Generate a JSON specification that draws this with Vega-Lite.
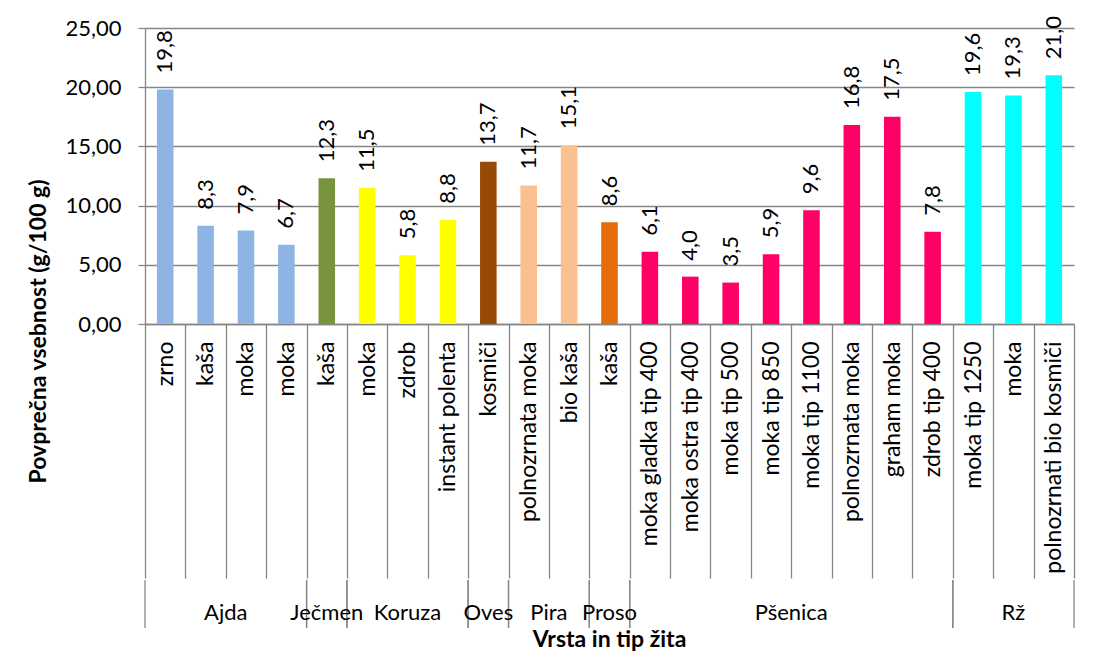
{
  "$schema": "https://vega.github.io/schema/vega-lite/v6.json",
  "padding": {"left": 27, "top": 16, "right": 5, "bottom": 0},
  "background": "white",
  "datasets": {
    "rows": [
      {"kategorija": "01 zrno", "vrsta": "Ajda", "vsebnost": 19.8},
      {"kategorija": "02 kaša", "vrsta": "Ajda", "vsebnost": 8.3},
      {"kategorija": "03 moka", "vrsta": "Ajda", "vsebnost": 7.9},
      {"kategorija": "04 moka", "vrsta": "Ajda", "vsebnost": 6.7},
      {"kategorija": "05 kaša", "vrsta": "Ječmen", "vsebnost": 12.3},
      {"kategorija": "06 moka", "vrsta": "Koruza", "vsebnost": 11.5},
      {"kategorija": "07 zdrob", "vrsta": "Koruza", "vsebnost": 5.8},
      {"kategorija": "08 instant polenta", "vrsta": "Koruza", "vsebnost": 8.8},
      {"kategorija": "09 kosmiči", "vrsta": "Oves", "vsebnost": 13.7},
      {"kategorija": "10 polnozrnata moka", "vrsta": "Pira", "vsebnost": 11.7},
      {"kategorija": "11 bio kaša", "vrsta": "Pira", "vsebnost": 15.1},
      {"kategorija": "12 kaša", "vrsta": "Proso", "vsebnost": 8.6},
      {"kategorija": "13 moka gladka tip 400", "vrsta": "Pšenica", "vsebnost": 6.1},
      {"kategorija": "14 moka ostra tip 400", "vrsta": "Pšenica", "vsebnost": 4.0},
      {"kategorija": "15 moka tip 500", "vrsta": "Pšenica", "vsebnost": 3.5},
      {"kategorija": "16 moka tip 850", "vrsta": "Pšenica", "vsebnost": 5.9},
      {"kategorija": "17 moka tip 1100", "vrsta": "Pšenica", "vsebnost": 9.6},
      {"kategorija": "18 polnozrnata moka", "vrsta": "Pšenica", "vsebnost": 16.8},
      {"kategorija": "19 graham moka", "vrsta": "Pšenica", "vsebnost": 17.5},
      {"kategorija": "20 zdrob tip 400", "vrsta": "Pšenica", "vsebnost": 7.8},
      {"kategorija": "21 moka tip 1250", "vrsta": "Rž", "vsebnost": 19.6},
      {"kategorija": "22 moka", "vrsta": "Rž", "vsebnost": 19.3},
      {"kategorija": "23 polnozrnati bio kosmiči", "vrsta": "Rž", "vsebnost": 21.0}
    ],
    "groups": [
      {"vrsta": "Ajda", "n": 4, "start": "01 zrno", "mid": "03 moka", "end": "04 moka"},
      {"vrsta": "Ječmen", "n": 1, "start": "05 kaša", "mid": "05 kaša", "end": "05 kaša"},
      {"vrsta": "Koruza", "n": 3, "start": "06 moka", "mid": "07 zdrob", "end": "08 instant polenta"},
      {"vrsta": "Oves", "n": 1, "start": "09 kosmiči", "mid": "09 kosmiči", "end": "09 kosmiči"},
      {"vrsta": "Pira", "n": 2, "start": "10 polnozrnata moka", "mid": "11 bio kaša", "end": "11 bio kaša"},
      {"vrsta": "Proso", "n": 1, "start": "12 kaša", "mid": "12 kaša", "end": "12 kaša"},
      {"vrsta": "Pšenica", "n": 8, "start": "13 moka gladka tip 400", "mid": "17 moka tip 1100", "end": "20 zdrob tip 400"},
      {"vrsta": "Rž", "n": 3, "start": "21 moka tip 1250", "mid": "22 moka", "end": "23 polnozrnati bio kosmiči"}
    ]
  },
  "vconcat": [
    {
      "width": 929,
      "height": 296,
      "data": {"name": "rows"},
      "encoding": {
        "x": {
          "field": "kategorija",
          "type": "nominal",
          "scale": {"paddingInner": 0, "paddingOuter": 0},
          "axis": {
            "title": null,
            "labelAngle": -90,
            "labelExpr": "substring(datum.label, 3)",
            "labelPadding": -237,
            "labelLimit": 400,
            "labelOverlap": false,
            "labelFont": "Lato",
            "labelFontSize": 23,
            "labelColor": "black",
            "tickSize": 254,
            "tickBand": "extent",
            "tickColor": "#868686",
            "tickWidth": 1.3,
            "domainColor": "#868686",
            "domainWidth": 1.3,
            "grid": false
          }
        }
      },
      "layer": [
        {
          "mark": {"type": "bar", "width": {"band": 0.41}},
          "encoding": {
            "y": {
              "field": "vsebnost",
              "type": "quantitative",
              "scale": {"domain": [0, 25], "nice": false},
              "axis": {
                "title": "Povprečna vsebnost (g/100 g)",
                "values": [0, 5, 10, 15, 20, 25],
                "format": ".2f",
                "grid": true,
                "gridColor": "#868686",
                "gridWidth": 1.3,
                "domainColor": "#868686",
                "domainWidth": 1.3,
                "tickColor": "#868686",
                "tickWidth": 1.3,
                "tickSize": 7,
                "labelPadding": 17,
                "labelFont": "Lato",
                "labelFontSize": 22,
                "labelColor": "black",
                "titleFont": "Lato",
                "titleFontSize": 23,
                "titleFontWeight": "bold",
                "titleColor": "black",
                "titleX": -107,
                "titleY": 303,
                "titleBaseline": "middle"
              }
            },
            "color": {
              "field": "vrsta",
              "type": "nominal",
              "scale": {
                "domain": ["Ajda", "Ječmen", "Koruza", "Oves", "Pira", "Proso", "Pšenica", "Rž"],
                "range": ["#8EB4E3", "#77933C", "#FFFF00", "#984807", "#FAC090", "#E46C0A", "#FF0066", "#00FFFF"]
              },
              "legend": null
            }
          }
        },
        {
          "mark": {"type": "text", "angle": 270, "align": "left", "baseline": "middle", "dx": 16, "font": "Lato", "fontSize": 22, "color": "black"},
          "encoding": {
            "y": {"field": "vsebnost", "type": "quantitative"},
            "text": {"field": "vsebnost", "type": "quantitative", "format": ".1f"}
          }
        }
      ]
    },
    {
      "width": 929,
      "height": 48,
      "data": {"name": "groups"},
      "title": {
        "text": "Vrsta in tip žita",
        "orient": "bottom",
        "anchor": "middle",
        "font": "Lato",
        "fontSize": 23,
        "fontWeight": "bold",
        "color": "black",
        "offset": 0
      },
      "layer": [
        {
          "mark": {"type": "rule", "color": "#868686", "strokeWidth": 1.3},
          "encoding": {
            "x": {"field": "start", "type": "nominal", "bandPosition": 0, "axis": null}
          }
        },
        {
          "mark": {"type": "rule", "color": "#868686", "strokeWidth": 1.3},
          "encoding": {
            "x": {"field": "end", "type": "nominal", "bandPosition": 1, "axis": null}
          }
        },
        {
          "transform": [{"filter": "datum.n % 2 == 0"}],
          "mark": {"type": "text", "font": "Lato", "fontSize": 22, "color": "black", "dy": 9},
          "encoding": {
            "x": {"field": "mid", "type": "nominal", "bandPosition": 0, "axis": null},
            "text": {"field": "vrsta"}
          }
        },
        {
          "transform": [{"filter": "datum.n % 2 == 1"}],
          "mark": {"type": "text", "font": "Lato", "fontSize": 22, "color": "black", "dy": 9},
          "encoding": {
            "x": {"field": "mid", "type": "nominal", "bandPosition": 0.5, "axis": null},
            "text": {"field": "vrsta"}
          }
        }
      ]
    }
  ],
  "spacing": 0,
  "resolve": {"scale": {"x": "shared"}},
  "config": {
    "view": {"stroke": null},
    "font": "Lato",
    "locale": {"number": {"decimal": ",", "thousands": ".", "grouping": [3], "currency": ["", " €"]}}
  }
}
